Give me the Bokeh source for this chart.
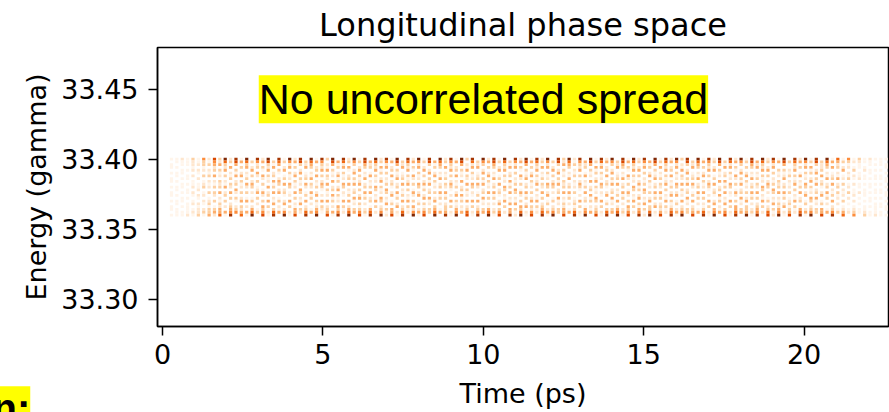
from bokeh.plotting import figure
from bokeh.models import (ColumnDataSource, LinearColorMapper, FixedTicker,
                          PrintfTickFormatter, Label, Title)
from bokeh.transform import transform
from bokeh.palettes import Oranges9
from bokeh.embed import file_html
from bokeh.resources import INLINE

title_text = "Longitudinal phase space"
x_label = "Time (ps)"
y_label = "Energy (gamma)"
note_text = "No uncorrelated spread"
corner_text = "n:"
x_ticks = [0, 5, 10, 15, 20]
y_ticks = [33.30, 33.35, 33.40, 33.45]

# histogram grid (energy bins top -> bottom, time bins per bunch: A = upper turning, B = lower turning)
energy_min = 33.359
energy_bin = 0.002
n_energy_bins = 21
bunch_start = 0.28
bunch_period = 0.335

density_a = [
    "101101011010110101101", "211011010110101101011", "322120201120210120121",
    "533120301230120210231", "754230402130320301342", "963240302140230302041",
    "874031402304203102350", "963402130420301402041", "852304203012403020130",
    "973240312040230403021", "864031024302401302140", "952403120430120403021",
    "873024031204302140320", "964302140320413020140", "853240302431020403210",
    "974031204023041302041", "862403120430210403120", "953024031402304120340",
    "874302140230413020231", "963240312043021403020", "852403021304302140312",
    "974031240230413024021", "863240312403021403120", "952403120430240130241",
    "873024031402304120330", "964302140230413020140", "853240302431020403021",
    "974031204023041302140", "862403120430210403021", "953024031402304120340",
    "874302140230413020231", "963240312043021403020", "852403021304302140312",
    "974031240230413024021", "863240312403021403120", "952403120430240130241",
    "873024031402304120330", "964302140230413020140", "853240302431020403021",
    "974031204023041302140", "862403120430210403021", "953024031402304120340",
    "874302140230413020231", "963240312043021403020", "852403021304302140312",
    "974031240230413024021", "863240312403021403120", "952403120430240130241",
    "873024031402304120330", "964302140230413020140", "853240302431020403021",
    "974031204023041302140", "862403120430210403021", "953024031402304120340",
    "874302140230413020231", "963240312043021403020", "852403021304302140312",
    "974031240230413024021", "863240312403021403120", "952403120430240130241",
    "873024031402304120330", "964302140230413020140", "642302140230312020130",
    "531202130120302010120", "321101120110201010110", "211011010110101101011",
    "111010110101101011011",
]
density_b = [
    "110101101011010110111", "111010110101101011112", "112021020112021021223",
    "213021302120301231334", "324031203230402132446", "230402130320403023458",
    "140302403120302403246", "030240302430201302469", "240310420301420304357",
    "031402304130402140368", "130240130402310240259", "240302403120403021447",
    "032401230420130402368", "140230402130240312459", "302140320403120402347",
    "041302413024031204358", "230410230402130402469", "130240312403024031357",
    "042301402130402301468", "230413024031204302359", "140230402310240130447",
    "032401230402130402368", "240310420301420304259", "130240302413024031357",
    "041302403120302403469", "230402130320413023348", "140230402130240312459",
    "302140320403120402367", "032401230420130402358", "240302403120403021469",
    "130240130402310240357", "031402304130402140448", "240310420301420304369",
    "140302403120302403257", "230402130320403023468", "030240302430201302359",
    "324031203230402132447", "213021302120301231368", "042301402130402301459",
    "130413024031204302347", "240230402310240130368", "032401230402130402469",
    "140310420301420304357", "230240302413024031458", "041302403120302403369",
    "130402130320413023247", "240230402130240312468", "302140320403120402359",
    "032401230420130402347", "140302403120403021368", "230240130402310240459",
    "031402304130402140357", "240310420301420304468", "130302403120302403349",
    "042402130320403023458", "230240302430201302367", "140031203230402132459",
    "030021302120301231347", "240301402130402301468", "130413024031204302359",
    "032230402310240130447", "140401230402130402358", "130240120302120301246",
    "120130210201120201235", "110120110101110101123", "101010110101101011112",
    "101101011010110101101",
]

ts, es, vs = [], [], []
for k, (col_a, col_b) in enumerate(zip(density_a, density_b)):
    for half, col in ((0, col_a), (1, col_b)):
        for r, ch in enumerate(col[:n_energy_bins]):
            v = int(ch)
            if v == 0:
                continue
            ts.append(bunch_start + k * bunch_period + half * bunch_period / 2)
            es.append(energy_min + (n_energy_bins - 1 - r + 0.5) * energy_bin)
            vs.append(v)

src = ColumnDataSource(dict(t=ts, e=es, v=vs))
mapper = LinearColorMapper(palette=list(reversed(Oranges9)), low=0.5, high=9.5)

p = figure(width=889, height=412, x_range=(-0.156, 22.63), y_range=(33.2804, 33.4797),
           output_backend="svg", toolbar_location=None,
           min_border_left=157, min_border_right=1, min_border_top=47, min_border_bottom=86)
p.background_fill_color = "white"
p.border_fill_color = "white"

p.rect(x="t", y="e", width=0.1, height=energy_bin, source=src,
       fill_color=transform("v", mapper), line_color=None)

p.title.text = title_text
p.title.align = "center"
p.title.text_font = "DejaVu Sans"
p.title.text_font_size = "32px"
p.title.text_font_style = "normal"
p.title.text_color = "black"
p.title.standoff = 7

p.xaxis.axis_label = x_label
p.yaxis.axis_label = y_label
p.xaxis.ticker = FixedTicker(ticks=x_ticks)
p.yaxis.ticker = FixedTicker(ticks=y_ticks)
p.yaxis.formatter = PrintfTickFormatter(format="%.2f")
for ax in (p.xaxis[0], p.yaxis[0]):
    ax.minor_tick_line_color = None
    ax.major_tick_out = 9
    ax.major_tick_in = 0
    ax.major_tick_line_width = 1.5
    ax.major_tick_line_color = "black"
    ax.axis_line_width = 1.5
    ax.axis_line_color = "black"
    ax.major_label_text_font = "DejaVu Sans"
    ax.major_label_text_font_size = "27px"
    ax.major_label_text_color = "black"
    ax.axis_label_text_font = "DejaVu Sans"
    ax.axis_label_text_font_size = "27px"
    ax.axis_label_text_font_style = "normal"
    ax.axis_label_text_color = "black"
p.xaxis[0].major_label_standoff = 8
p.xaxis[0].axis_label_standoff = 11
p.yaxis[0].major_label_standoff = 10
p.yaxis[0].axis_label_standoff = 6
p.grid.visible = False
p.outline_line_color = "black"
p.outline_line_width = 1.5
p.outline_line_alpha = 1.0

note = Label(x=3, y=33.4428, text=note_text, text_font="Liberation Sans",
             text_font_size="43px", text_color="black", text_baseline="alphabetic",
             background_fill_color="#ffff00", padding=0)
p.add_layout(note)

corner = Title(text=corner_text, align="left", offset=-165, standoff=-50.6,
               vertical_align="top", text_font="Liberation Sans",
               text_font_size="40px", text_font_style="bold", text_color="black",
               background_fill_color="#ffff00")
p.add_layout(corner, "below")

open("out.html", "w").write(file_html(p, INLINE))
